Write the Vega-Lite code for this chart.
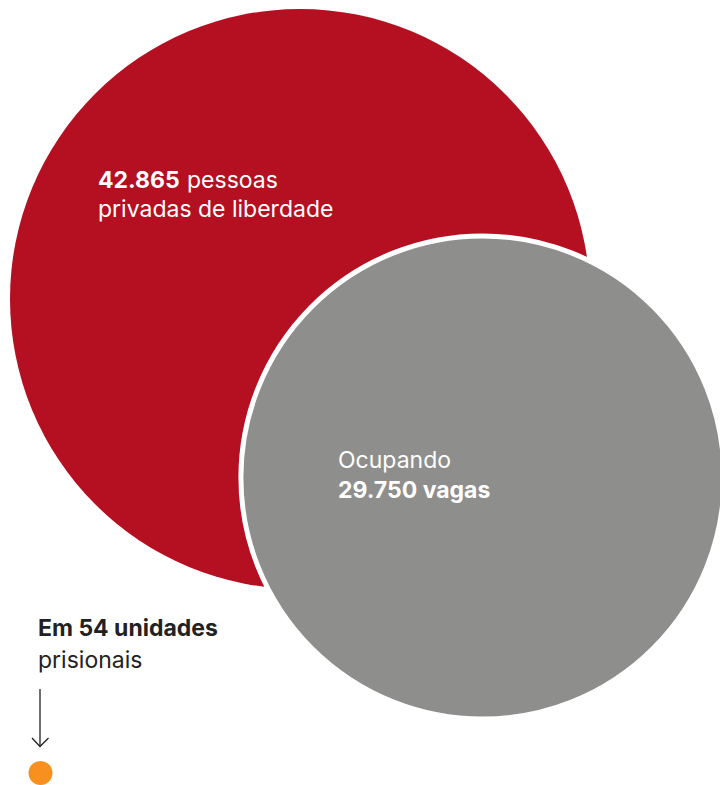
{
  "$schema": "https://vega.github.io/schema/vega-lite/v6.json",
  "width": 720,
  "height": 785,
  "autosize": "none",
  "padding": 0,
  "background": "white",
  "config": {"view": {"stroke": null}},
  "layer": [
    {
      "data": {"values": [
        {"label": "pessoas privadas de liberdade", "value": 42865, "cx": 300, "cy": 299},
        {"label": "vagas", "value": 29750, "cx": 482.5, "cy": 477.5}
      ]},
      "mark": {"type": "point", "shape": "circle", "filled": true, "opacity": 1, "strokeOpacity": 1},
      "encoding": {
        "x": {"field": "cx", "type": "quantitative", "scale": {"domain": [0, 720]}, "axis": null},
        "y": {"field": "cy", "type": "quantitative", "scale": {"domain": [0, 785], "reverse": true}, "axis": null},
        "size": {"field": "value", "type": "quantitative", "scale": {"type": "linear", "domain": [0, 42865], "range": [0, 336400]}, "legend": null},
        "color": {"field": "label", "type": "nominal", "scale": {"domain": ["pessoas privadas de liberdade", "vagas"], "range": ["#B50F22", "#8E8E8C"]}, "legend": null},
        "stroke": {"field": "label", "type": "nominal", "scale": {"domain": ["pessoas privadas de liberdade", "vagas"], "range": ["#B50F22", "#FFFFFF"]}, "legend": null},
        "strokeWidth": {"field": "label", "type": "nominal", "scale": {"domain": ["pessoas privadas de liberdade", "vagas"], "range": [0, 5]}, "legend": null}
      }
    },
    {
      "data": {"values": [{"label": "unidades prisionais", "value": 54, "cx": 40.5, "cy": 773}]},
      "mark": {"type": "point", "shape": "circle", "filled": true, "opacity": 1, "size": 576, "color": "#F7901E"},
      "encoding": {
        "x": {"field": "cx", "type": "quantitative", "scale": {"domain": [0, 720]}, "axis": null},
        "y": {"field": "cy", "type": "quantitative", "scale": {"domain": [0, 785], "reverse": true}, "axis": null}
      }
    },
    {
      "data": {"values": [{"x": 40, "y": 689, "y2": 746.5}]},
      "mark": {"type": "rule", "color": "#222222", "strokeWidth": 1.3},
      "encoding": {
        "x": {"field": "x", "type": "quantitative", "scale": {"domain": [0, 720]}, "axis": null},
        "y": {"field": "y", "type": "quantitative", "scale": {"domain": [0, 785], "reverse": true}, "axis": null},
        "y2": {"field": "y2"}
      }
    },
    {
      "data": {"values": [{"x": 32, "y": 738, "o": 1}, {"x": 40, "y": 746.5, "o": 2}, {"x": 48.5, "y": 738, "o": 3}]},
      "mark": {"type": "line", "color": "#222222", "strokeWidth": 1.3},
      "encoding": {
        "x": {"field": "x", "type": "quantitative", "scale": {"domain": [0, 720]}, "axis": null},
        "y": {"field": "y", "type": "quantitative", "scale": {"domain": [0, 785], "reverse": true}, "axis": null},
        "order": {"field": "o", "type": "quantitative"}
      }
    },
    {
      "data": {"values": [
        {"t": "pessoas", "x": 187, "y": 187.5},
        {"t": "privadas de liberdade", "x": 98, "y": 216.5},
        {"t": "Ocupando", "x": 338, "y": 468}
      ]},
      "mark": {"type": "text", "align": "left", "baseline": "alphabetic", "font": "Inter", "fontSize": 23, "fontWeight": "normal", "color": "#FFFFFF"},
      "encoding": {
        "x": {"field": "x", "type": "quantitative", "scale": {"domain": [0, 720]}, "axis": null},
        "y": {"field": "y", "type": "quantitative", "scale": {"domain": [0, 785], "reverse": true}, "axis": null},
        "text": {"field": "t"}
      }
    },
    {
      "data": {"values": [
        {"t": "42.865", "x": 98, "y": 187.5},
        {"t": "29.750 vagas", "x": 338, "y": 497.5}
      ]},
      "mark": {"type": "text", "align": "left", "baseline": "alphabetic", "font": "Inter", "fontSize": 23, "fontWeight": "bold", "color": "#FFFFFF"},
      "encoding": {
        "x": {"field": "x", "type": "quantitative", "scale": {"domain": [0, 720]}, "axis": null},
        "y": {"field": "y", "type": "quantitative", "scale": {"domain": [0, 785], "reverse": true}, "axis": null},
        "text": {"field": "t"}
      }
    },
    {
      "data": {"values": [{"t": "Em 54 unidades", "x": 38, "y": 636}]},
      "mark": {"type": "text", "align": "left", "baseline": "alphabetic", "font": "Inter", "fontSize": 23, "fontWeight": "bold", "color": "#222222"},
      "encoding": {
        "x": {"field": "x", "type": "quantitative", "scale": {"domain": [0, 720]}, "axis": null},
        "y": {"field": "y", "type": "quantitative", "scale": {"domain": [0, 785], "reverse": true}, "axis": null},
        "text": {"field": "t"}
      }
    },
    {
      "data": {"values": [{"t": "prisionais", "x": 38, "y": 667.5}]},
      "mark": {"type": "text", "align": "left", "baseline": "alphabetic", "font": "Inter", "fontSize": 23, "fontWeight": "normal", "color": "#222222"},
      "encoding": {
        "x": {"field": "x", "type": "quantitative", "scale": {"domain": [0, 720]}, "axis": null},
        "y": {"field": "y", "type": "quantitative", "scale": {"domain": [0, 785], "reverse": true}, "axis": null},
        "text": {"field": "t"}
      }
    }
  ]
}
